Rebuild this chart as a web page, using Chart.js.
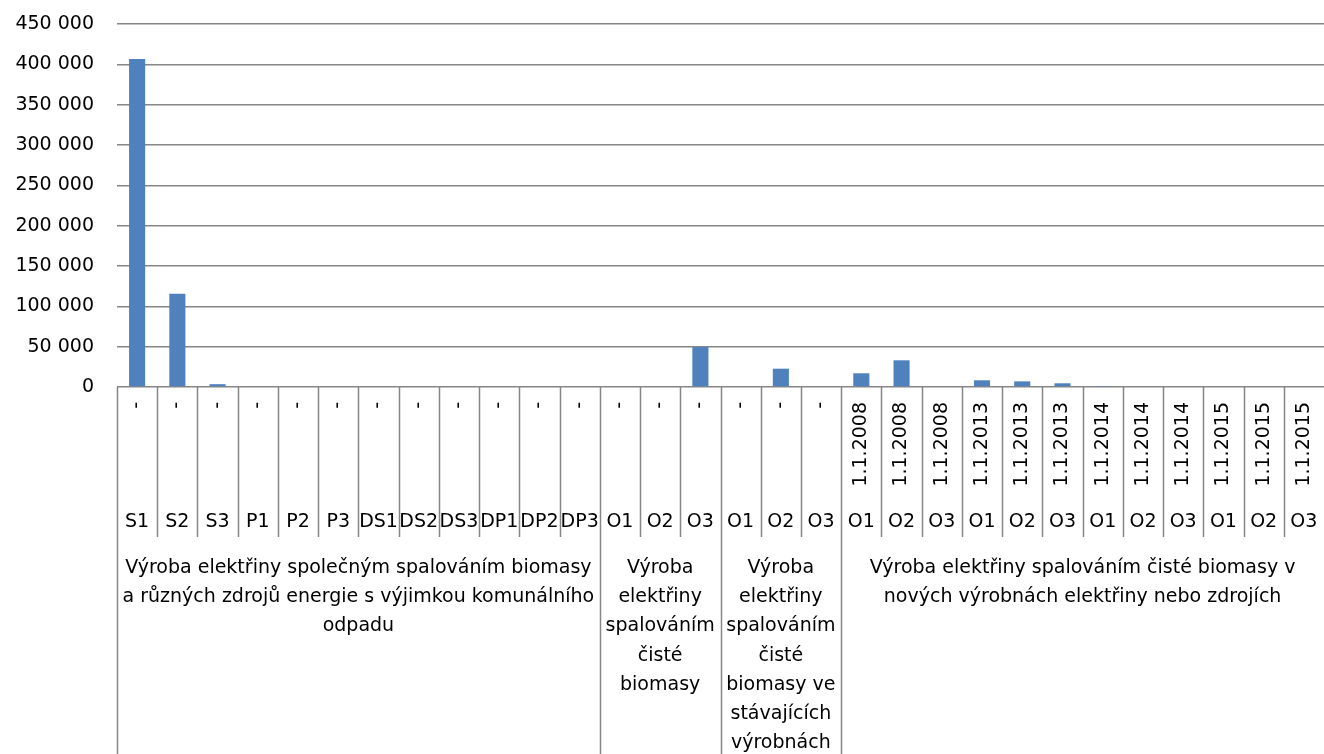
<!DOCTYPE html>
<html>
<head>
<meta charset="utf-8">
<script src="https://cdn.jsdelivr.net/npm/chart.js@4"></script>
<style>
  html, body { margin: 0; padding: 0; background: #fff; }
  #wrap { width: 1324px; height: 754px; }
</style>
</head>
<body>
<div id="wrap"><canvas id="my-chart"></canvas></div>
<script>
// level 1 (rotated), level 2 and level 3 of the category axis
const dateLabels = [
  "-", "-", "-", "-", "-", "-", "-", "-", "-", "-", "-", "-",
  "-", "-", "-",
  "-", "-", "-",
  "1.1.2008", "1.1.2008", "1.1.2008", "1.1.2013", "1.1.2013", "1.1.2013",
  "1.1.2014", "1.1.2014", "1.1.2014", "1.1.2015", "1.1.2015", "1.1.2015",
];
const codeLabels = [
  "S1", "S2", "S3", "P1", "P2", "P3", "DS1", "DS2", "DS3", "DP1", "DP2", "DP3",
  "O1", "O2", "O3",
  "O1", "O2", "O3",
  "O1", "O2", "O3", "O1", "O2", "O3", "O1", "O2", "O3", "O1", "O2", "O3",
];
const groupStarts = [0, 12, 15, 18];
const groupEnds = [12, 15, 18, 30];
const groupLines = [
  ["Výroba elektřiny společným spalováním biomasy", "a různých zdrojů energie s výjimkou komunálního", "odpadu"],
  ["Výroba", "elektřiny", "spalováním", "čisté", "biomasy"],
  ["Výroba", "elektřiny", "spalováním", "čisté", "biomasy ve", "stávajících", "výrobnách"],
  ["Výroba elektřiny spalováním čisté biomasy v", "nových výrobnách elektřiny nebo zdrojích"],
];
const values = [
  406500, 115500, 3500, 0, 0, 0, 0, 0, 0, 0, 0, 0,
  0, 0, 49500,
  0, 22700, 0,
  17000, 33100, 0, 8300, 7000, 4600, 500, 0, 0, 0, 0, 0,
];

const FONT = "DejaVu Sans";
const GRID = "#868686";

function formatThousands(v) {
  return String(v).replace(/\B(?=(\d{3})+(?!\d))/g, " ");
}

// draws the multi-level category axis under the plot
const multiLevelAxis = {
  id: "multiLevelAxis",
  afterDraw(chart) {
    const ctx = chart.ctx;
    const area = chart.chartArea;
    const x = chart.scales.x;
    const n = codeLabels.length;
    const w = area.width / n;
    const top = area.bottom;

    ctx.save();
    ctx.strokeStyle = GRID;
    ctx.lineWidth = 1.5;
    for (let i = 0; i < n; i++) {
      const px = Math.round(area.left + i * w) + 0.5;
      const full = groupStarts.includes(i);
      ctx.beginPath();
      ctx.moveTo(px, top);
      ctx.lineTo(px, full ? chart.height : top + 150);
      ctx.stroke();
    }

    ctx.fillStyle = "#000";
    ctx.font = "19px '" + FONT + "'";

    // rotated labels
    for (let i = 0; i < n; i++) {
      const cx = x.getPixelForValue(i);
      ctx.save();
      ctx.translate(cx, top + 15);
      ctx.rotate(-Math.PI / 2);
      ctx.textAlign = "right";
      ctx.textBaseline = "middle";
      ctx.fillText(dateLabels[i], 0, 0);
      ctx.restore();
    }

    // codes
    ctx.textAlign = "center";
    ctx.textBaseline = "middle";
    for (let i = 0; i < n; i++) {
      ctx.fillText(codeLabels[i], x.getPixelForValue(i), top + 135);
    }

    // groups
    for (let g = 0; g < groupLines.length; g++) {
      const cx = area.left + ((groupStarts[g] + groupEnds[g]) / 2) * w;
      groupLines[g].forEach((line, k) => {
        ctx.fillText(line, cx, top + 181 + k * 29.2);
      });
    }
    ctx.restore();
  },
};

const ctx = document.getElementById("my-chart");

new Chart(ctx, {
  type: "bar",
  data: {
    labels: codeLabels,
    datasets: [
      {
        data: values,
        backgroundColor: "#4F81BD",
        barPercentage: 0.4,
        categoryPercentage: 1,
      },
    ],
  },
  options: {
    responsive: true,
    maintainAspectRatio: false,
    animation: false,
    layout: { padding: { top: 24, left: 0, right: 0, bottom: 0 } },
    plugins: {
      legend: { display: false },
      tooltip: { enabled: false },
    },
    scales: {
      x: {
        grid: { display: false },
        border: { display: false },
        ticks: { display: false },
        afterFit: (scale) => {
          scale.height = 367;
        },
      },
      y: {
        min: 0,
        max: 450000,
        border: { display: false },
        grid: { color: GRID, lineWidth: 1.5, drawTicks: false },
        ticks: {
          stepSize: 50000,
          padding: 23,
          color: "#000",
          font: { family: FONT, size: 19 },
          callback: (v) => formatThousands(v),
        },
        afterFit: (scale) => {
          scale.width = 117;
          scale.paddingTop = 0;
          scale.paddingBottom = 0;
        },
      },
    },
  },
  plugins: [multiLevelAxis],
});
</script>
</body>
</html>
